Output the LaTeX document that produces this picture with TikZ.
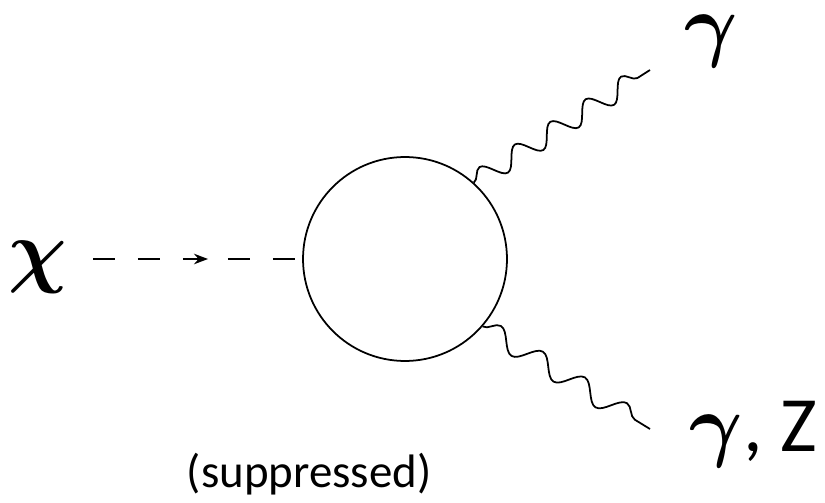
\documentclass[tikz,border=0pt]{standalone}
\usepackage{fontspec}
\usepackage{graphicx}
\newfontfamily\calibri{Carlito}
\newcommand{\bigsym}[1]{\scalebox{4.65}{\boldmath$#1$}}
\usetikzlibrary{decorations.pathmorphing,decorations.markings,arrows.meta}

\begin{document}
\begin{tikzpicture}[
  x=0.02cm, y=-0.02cm, line width=1pt,
  lbl/.style={inner sep=0pt},
  note/.style={inner sep=0pt, font=\calibri\fontsize{26.7}{32}\selectfont},
  loopc/.style={draw, circle, minimum size=4.08cm, inner sep=0pt},
  scalar/.style={dash pattern=on 0.44cm off 0.46cm, postaction={decorate},
                 decoration={markings,
                   mark=at position 0.55 with {\arrow{Stealth[length=8pt,width=6pt]}}}},
  photon/.style={decorate, decoration={snake, amplitude=0.2cm, segment length=#1}}
]
  \useasboundingbox (0,0) rectangle (825,503);

  \node[loopc] (loop) at (405,259) {};

  \node[lbl, anchor=base] (chi) at (38,277) {\bigsym{\chi}};
  \coordinate (in) at (93,259);
  \draw[scalar] (in) -- (loop.west);

  \coordinate (out1) at (650,70);
  \coordinate (out2) at (650,429);
  \draw[photon=0.84cm] (loop.48) -- (out1);
  \draw[photon=0.985cm] (loop.-41) -- (out2);

  \node[lbl, anchor=base] (gam) at (711,52) {\bigsym{\gamma}};
  \node[lbl, anchor=base west] (gamz) at (689,451)
    {\bigsym{\gamma}{\calibri\fontsize{44.6}{50}\selectfont, Z}};
  \node[note, anchor=base west] (supp) at (186,487) {(suppressed)};
\end{tikzpicture}
\end{document}
